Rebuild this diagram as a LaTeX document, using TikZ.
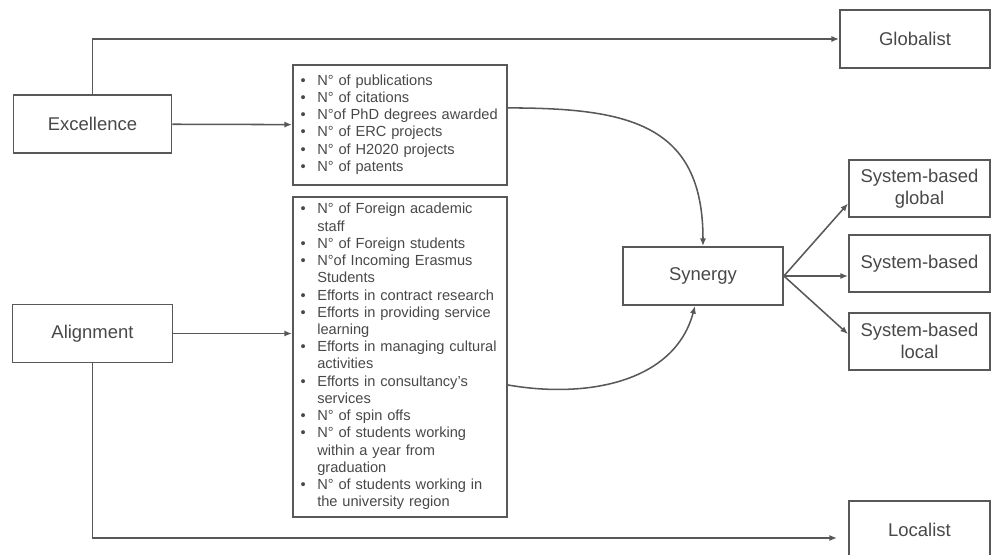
\documentclass[tikz,border=0pt]{standalone}
\usepackage{fontspec}
\setmainfont{Liberation Sans}
\usetikzlibrary{arrows.meta,positioning,calc}
\definecolor{cLine}{RGB}{88,88,88}
\definecolor{cText}{RGB}{72,72,72}
\tikzset{
  box/.style={draw=cLine, line width=1.2pt, text=cText, align=center,
              font=\fontsize{12}{14.4}\selectfont, minimum height=37.7pt, inner sep=2pt},
  lst/.style={draw=cLine, line width=1.2pt, text=cText, anchor=north west,
              font=\fontsize{9.5}{11.2}\selectfont, text width=129pt,
              inner xsep=5pt, inner ysep=2pt},
  ar/.style={-{Latex[length=5pt,width=4pt]}, draw=cLine, line width=1pt},
}

\begin{document}
\begin{tikzpicture}[x=0.65pt, y=-0.65pt]
\useasboundingbox (0,0) rectangle (992,555);

% dimensions and inputs
\node[box, minimum width=102.7pt] (exc) at (92.5,124) {Excellence};
\node[box, minimum width=104pt] (aln) at (92.5,333.5) {Alignment};

% indicator lists
\node[lst, minimum height=78pt] (ind1) at (292,64) {%
\begin{tabular}{@{}l@{\hspace{7.5pt}}l@{}}
\textbullet & N° of publications\\
\textbullet & N° of citations\\
\textbullet & N°of PhD degrees awarded\\
\textbullet & N° of ERC projects\\
\textbullet & N° of H2020 projects\\
\textbullet & N° of patents
\end{tabular}};
\node[lst, minimum height=208pt] (ind2) at (292,196) {%
\begin{tabular}{@{}l@{\hspace{7.5pt}}l@{}}
\textbullet & N° of Foreign academic\\
 & staff\\
\textbullet & N° of Foreign students\\
\textbullet & N°of Incoming Erasmus\\
 & Students\\
\textbullet & Efforts in contract research\\
\textbullet & Efforts in providing service\\
 & learning\\
\textbullet & Efforts in managing cultural\\
 & activities\\
\textbullet & Efforts in consultancy's\\
 & services\\
\textbullet & N° of spin offs\\
\textbullet & N° of students working\\
 & within a year from\\
 & graduation\\
\textbullet & N° of students working in\\
 & the university region
\end{tabular}};

\node[box, minimum width=104pt] (syn) at (703,276) {Synergy};

% university models
\node[box, minimum width=97.5pt] (glob) at (915,39) {Globalist};
\node[box, minimum width=91.7pt, minimum height=37pt] (sbg) at (919.5,188.5) {System-based\\global};
\node[box, minimum width=91.7pt, minimum height=37pt, below=10.4pt of sbg] (sb) {System-based};
\node[box, minimum width=91.7pt, minimum height=37pt, below=12.4pt of sb] (sbl) {System-based\\local};
\node[box, minimum width=91.7pt] (loc) at (919.5,530) {Localist};

\draw[ar] (exc.north) |- (glob.west);
\draw[ar] (exc) -- (ind1);
\draw[ar] (aln.east) -- (aln.east -| ind2.west);
\draw[ar] (aln.south) |- ($(loc.west)+(-11,8)$);
\draw[ar] ($(ind1.east)+(0,-17)$) to[out=0, in=90, looseness=1.3] (syn.north);
\draw[ar] ($(ind2.east)+(0,28)$) to[out=-10, in=-105] ($(syn.south)+(-8,0)$);
\draw[ar] (syn.east) -- ($(sbg.west)+(0,15)$);
\draw[ar] (syn.east) -- (syn.east -| sb.west);
\draw[ar] (syn.east) -- ($(sbl.west)+(0,-7)$);
\end{tikzpicture}
\end{document}
